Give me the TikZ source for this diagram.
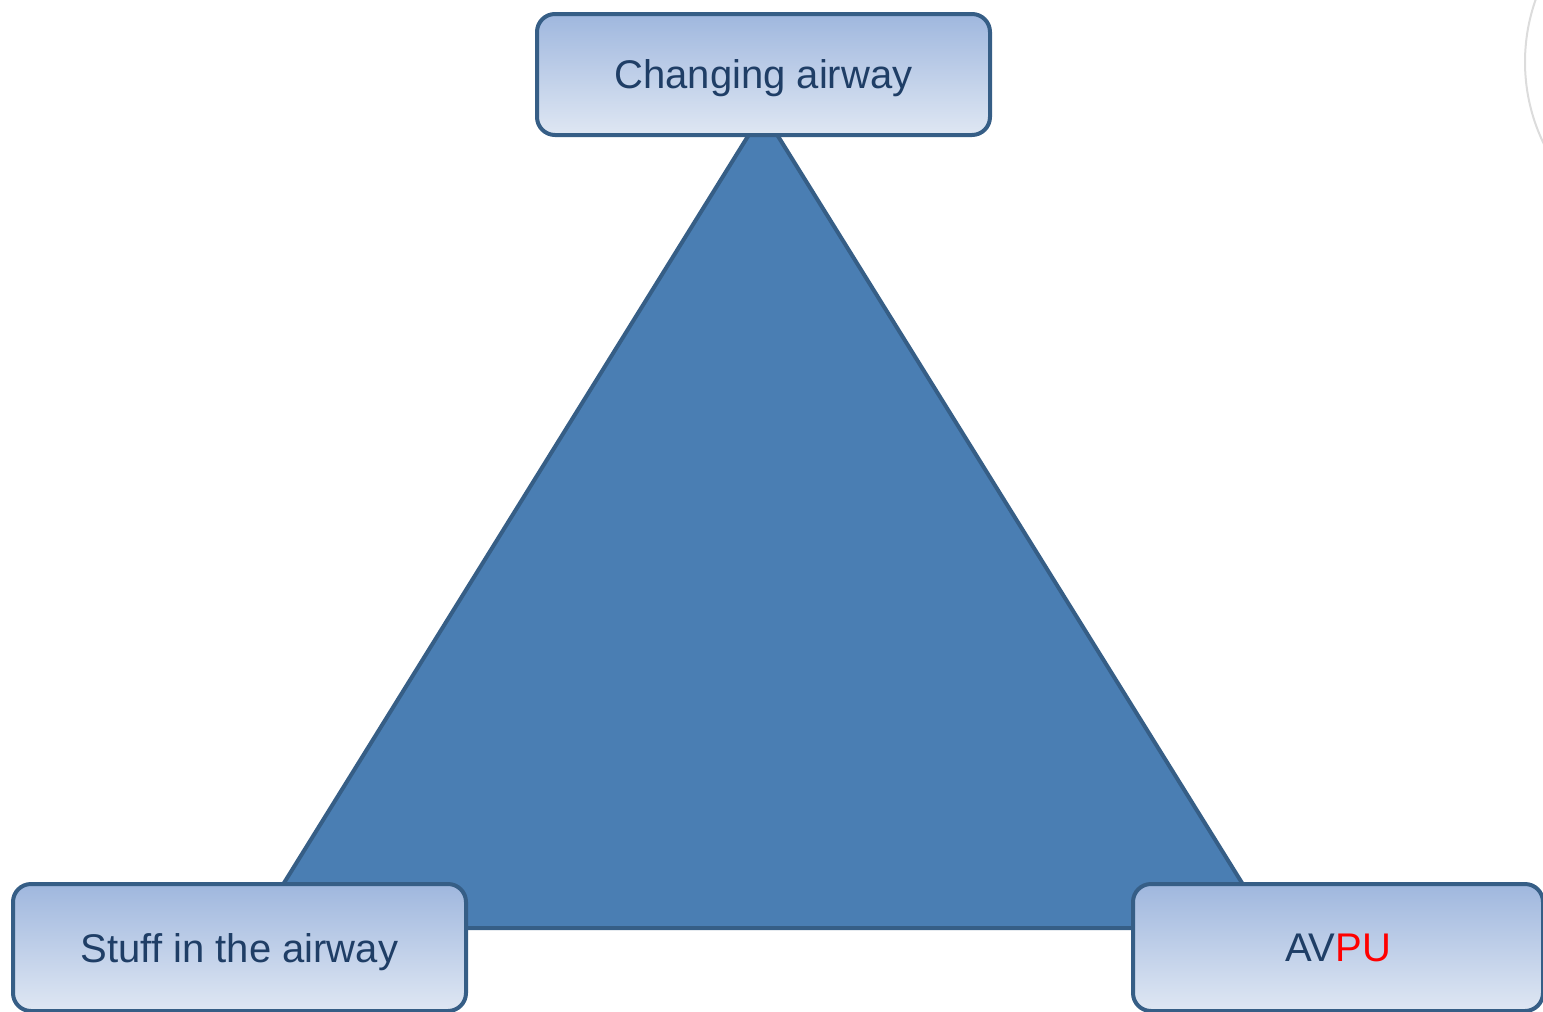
\documentclass[tikz,border=0pt]{standalone}
\usepackage{fontspec}
\setmainfont{Liberation Sans}
\definecolor{edgeblue}{HTML}{365E86}
\definecolor{trifill}{HTML}{4A7EB3}
\definecolor{boxtop}{HTML}{9FB7DE}
\definecolor{boxbot}{HTML}{DFE7F3}
\definecolor{txtblue}{HTML}{1F3E66}
\definecolor{arcgray}{HTML}{DCDCDC}
\tikzset{
  labelbox/.style={draw=edgeblue, line width=4pt, rounded corners=18pt,
    top color=boxtop, bottom color=boxbot, text=txtblue,
    font=\fontsize{40}{47}\selectfont, inner sep=0pt, text depth=0pt, anchor=north west},
}
\begin{document}
\begin{tikzpicture}[x=1pt,y=-1pt]
\useasboundingbox (0,0) rectangle (1543,1012);
\begin{scope}
  \clip (0,0) rectangle (1543,1012);
  \draw[arcgray, line width=2pt] (1712,62) circle[radius=187pt];
\end{scope}
\coordinate (apex) at (763,112);
\coordinate (bl) at (256,928);
\coordinate (br) at (1270,928);
\draw[edgeblue, line width=4pt, fill=trifill, line join=miter] (apex) -- (bl) -- (br) -- cycle;
\node[labelbox, minimum width=453pt, minimum height=121pt] (top) at (535,12) {Changing airway};
\node[labelbox, minimum width=453pt, minimum height=127pt] (left) at (11,882) {Stuff in the airway};
\node[labelbox, minimum width=410pt, minimum height=127pt] (right) at (1131,882) {AV\textcolor{red}{PU}};
\end{tikzpicture}
\end{document}
